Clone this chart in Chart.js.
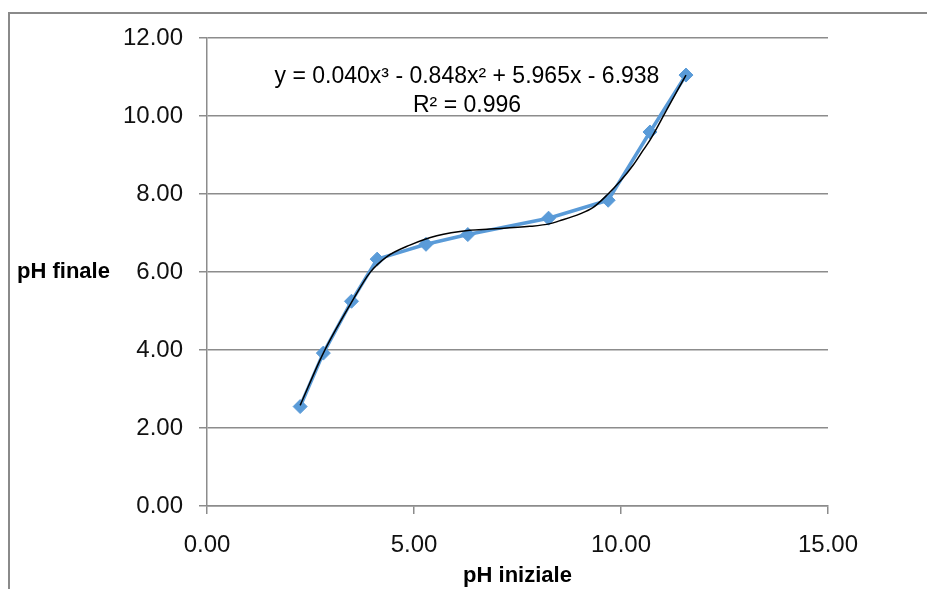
<!DOCTYPE html>
<html>
<head>
<meta charset="utf-8">
<script src="https://cdn.jsdelivr.net/npm/chart.js@4.4.0/dist/chart.umd.min.js"></script>
<style>
  html, body { margin: 0; padding: 0; background: #fff; }
  #wrap { width: 927px; height: 589px; }
</style>
</head>
<body>
<div id="wrap"><canvas id="phChart" width="927" height="589"></canvas></div>
<script>
// measured points (pH iniziale -> pH finale)
const phIniziale = [2.25, 2.81, 3.49, 4.11, 5.29, 6.30, 8.25, 9.69, 10.70, 11.57];
const phFinale = [2.55, 3.92, 5.25, 6.33, 6.71, 6.96, 7.38, 7.84, 9.59, 11.05];

// polynomial trendline
const trendX = [2.25, 2.81, 3.49, 3.94, 4.34, 4.90, 5.55, 6.35, 6.84, 7.80, 8.29, 8.51, 9.01, 9.32, 9.67, 10.00, 10.30, 10.54, 10.70, 11.10, 11.57];
const trendY = [2.58, 3.92, 5.22, 5.99, 6.39, 6.69, 6.93, 7.07, 7.10, 7.17, 7.24, 7.31, 7.49, 7.65, 7.98, 8.35, 8.75, 9.13, 9.38, 10.15, 11.05];

const xTicks = [0, 5, 10, 15];
const yTicks = [0, 2, 4, 6, 8, 10, 12];

const equation = 'y = 0.040x³ - 0.848x² + 5.965x - 6.938';
const rSquared = 'R² = 0.996';

const toPoints = (xs, ys) => xs.map((x, i) => ({ x: x, y: ys[i] }));

const gridGray = '#8c8c8c';
const fontFamily = "'Liberation Sans', Arial, sans-serif";

// frame, horizontal y title and the trendline label
const extras = {
    id: 'extras',
    beforeDraw(chart) {
        const ctx = chart.ctx;
        ctx.save();
        ctx.fillStyle = '#fff';
        ctx.fillRect(0, 0, chart.width, chart.height);
        ctx.strokeStyle = '#8a8a8a';
        ctx.lineWidth = 2;
        ctx.strokeRect(9, 13, chart.width + 10, chart.height + 10);
        ctx.restore();
    },
    afterDraw(chart) {
        const ctx = chart.ctx;
        const area = chart.chartArea;
        const xs = chart.scales.x;
        const ys = chart.scales.y;
        ctx.save();
        ctx.fillStyle = '#000';
        ctx.textBaseline = 'middle';

        ctx.font = 'bold 22px ' + fontFamily;
        ctx.textAlign = 'left';
        ctx.fillText('pH finale', 17, (area.top + area.bottom) / 2);

        ctx.font = '23px ' + fontFamily;
        ctx.textAlign = 'center';
        ctx.fillText(equation, xs.getPixelForValue(6.28), ys.getPixelForValue(11.0));
        ctx.fillText(rSquared, xs.getPixelForValue(6.28), ys.getPixelForValue(10.27));
        ctx.restore();
    }
};

new Chart(document.getElementById('phChart'), {
    type: 'scatter',
    data: {
        datasets: [
            {
                label: 'Poli. (pH finale)',
                data: toPoints(trendX, trendY),
                showLine: true,
                borderColor: '#000',
                borderWidth: 1.5,
                pointRadius: 0,
                cubicInterpolationMode: 'monotone',
                order: 0
            },
            {
                label: 'pH finale',
                data: toPoints(phIniziale, phFinale),
                showLine: true,
                borderColor: '#5a9bd8',
                backgroundColor: '#5a9bd8',
                borderWidth: 3.5,
                pointStyle: 'rectRot',
                pointRadius: 7,
                pointBorderWidth: 1,
                tension: 0,
                order: 1
            }
        ]
    },
    options: {
        responsive: false,
        animation: false,
        layout: { padding: { left: 0, top: 38, right: 99, bottom: 0 } },
        plugins: {
            legend: { display: false },
            tooltip: { enabled: false }
        },
        scales: {
            x: {
                type: 'linear',
                min: xTicks[0],
                max: xTicks[xTicks.length - 1],
                afterBuildTicks: (scale) => { scale.ticks = xTicks.map(v => ({ value: v })); },
                afterFit: (scale) => { scale.height = 83; },
                grid: { drawOnChartArea: false, drawTicks: true, tickLength: 8, color: gridGray, lineWidth: 1.5 },
                border: { display: true, color: gridGray, width: 1.5 },
                ticks: {
                    padding: 17,
                    color: '#111',
                    font: { family: fontFamily, size: 24 },
                    callback: (v) => Number(v).toFixed(2)
                },
                title: {
                    display: true,
                    text: 'pH iniziale',
                    color: '#000',
                    padding: 0,
                    font: { family: fontFamily, size: 22, weight: 'bold' }
                }
            },
            y: {
                type: 'linear',
                min: yTicks[0],
                max: yTicks[yTicks.length - 1],
                afterBuildTicks: (scale) => { scale.ticks = yTicks.map(v => ({ value: v })); },
                afterFit: (scale) => { scale.width = 207; },
                grid: { drawOnChartArea: true, drawTicks: true, tickLength: 8, color: gridGray, lineWidth: 1.5 },
                border: { display: true, color: gridGray, width: 1.5 },
                ticks: {
                    padding: 16,
                    color: '#111',
                    font: { family: fontFamily, size: 24 },
                    callback: (v) => Number(v).toFixed(2)
                }
            }
        }
    },
    plugins: [extras]
});
</script>
</body>
</html>
